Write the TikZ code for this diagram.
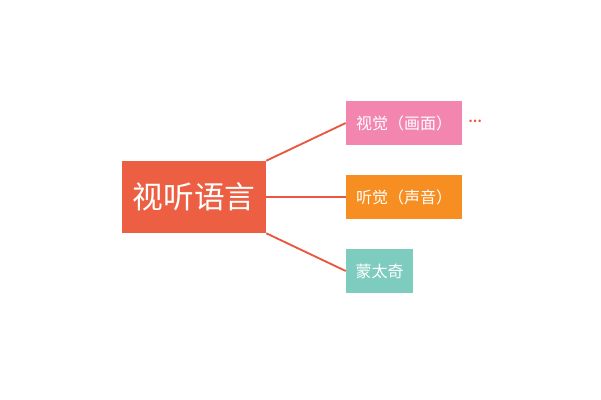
\documentclass[tikz,border=0pt]{standalone}
\usepackage{fontspec}
\newfontfamily\cjk{Noto Sans CJK SC}
\definecolor{rootred}{HTML}{EC5F43}
\definecolor{linkred}{HTML}{E9573F}
\definecolor{viewpink}{HTML}{F386AE}
\definecolor{soundorange}{HTML}{F68E21}
\definecolor{montage}{HTML}{7ECCBF}
\usetikzlibrary{positioning}

\begin{document}
\begin{tikzpicture}[
    x=0.75pt, y=-0.75pt,
    rootbox/.style={rectangle, fill=rootred, minimum width=108pt, minimum height=54pt, inner sep=0pt, font=\cjk\fontsize{23}{26}\selectfont, text=white, align=center},
    leafbox/.style={rectangle, minimum width=87pt, minimum height=33pt, inner sep=0pt, font=\cjk\fontsize{12}{14}\selectfont, text=white, align=center},
    link/.style={draw=linkred, line width=1.4pt}
]
    \useasboundingbox (0,0) rectangle (601,400);

    % Root
    \node[rootbox] (root) at (194,197) {视听语言};

    % Branches
    \node[leafbox, fill=viewpink] (view) at (404,123) {视觉（画面）};
    \node[leafbox, fill=soundorange] (sound) at (404,197) {听觉（声音）};
    \node[leafbox, fill=montage, minimum width=50.25pt] (mont) at (379.5,271) {蒙太奇};

    \node[font=\cjk\fontsize{9}{10}\bfseries, text=linkred, inner sep=0pt] (more) at (475,121) {…};

    % Links
    \draw[link] (root.north east) -- (view.west);
    \draw[link] (root.east) -- (sound.west);
    \draw[link] (root.south east) -- (mont.west);
\end{tikzpicture}
\end{document}
